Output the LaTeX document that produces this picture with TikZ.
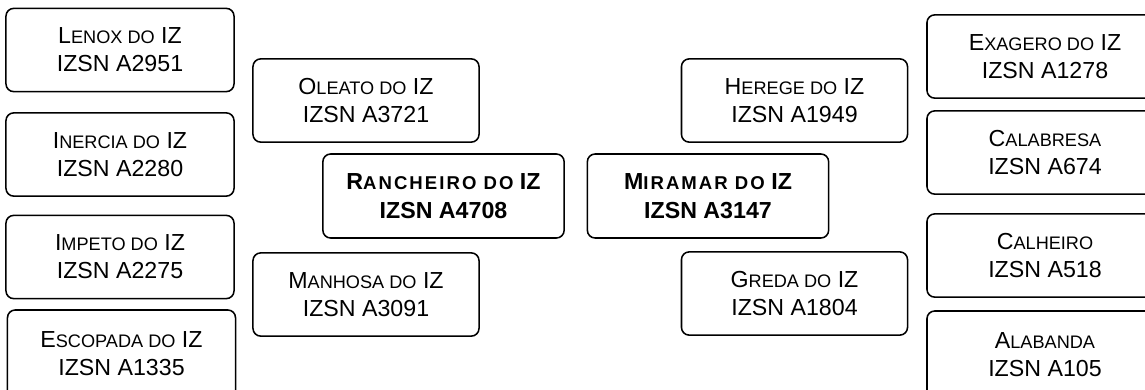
\documentclass[tikz,border=0pt]{standalone}
\usepackage{fontspec}
\setmainfont{Liberation Sans}
\usetikzlibrary{
    positioning
}
\definecolor{ink}{RGB}{0,0,0}
\definecolor{paper}{RGB}{255,255,255}
% fake small caps, as the word processor sets them
\newcommand{\lowcap}[1]{{\fontsize{12.9}{20}\selectfont #1}}
\newcommand{\lowcapwide}[1]{{\fontsize{13.2}{21}\selectfont\addfontfeature{LetterSpace=11}#1}}
\tikzset{
    line join=round,
    animal/.style={
        rectangle,
        draw=ink,
        line width=1.1pt,
        rounded corners=5.5pt,
        fill=paper,
        minimum width=5.65cm,
        minimum height=2.08cm,
        align=center,
        inner sep=2pt,
        text=ink,
        font=\fontsize{16.5}{20}\selectfont
    },
    parent/.style={animal},
    grandparent/.style={animal, minimum width=5.7cm},
    edgebox/.style={grandparent, minimum height=2.2cm},
    outerbox/.style={grandparent, minimum width=5.9cm},
    proband/.style={
        animal,
        minimum width=6.03cm,
        minimum height=2.1cm,
        font=\fontsize{16.5}{21}\selectfont\bfseries
    }
}

\begin{document}
\begin{tikzpicture}[x=0.025cm, y=-0.025cm]
    \useasboundingbox (0,0) rectangle (1145,389);
    % page edge cuts the outer boxes
    \clip (0,0) rectangle (1145,389);

    % Rancheiro side
    \node[proband] (ranch) at (443.5,196) {R\lowcapwide{ANCHEIRO DO} IZ\\IZSN A4708};
    \node[parent] (oleato) at (366,100.5) {O\lowcap{LEATO DO} IZ\\IZSN A3721};
    \node[parent] (manhosa) at (366,294.5) {M\lowcap{ANHOSA DO} IZ\\IZSN A3091};
    \node[grandparent] (lenox) at (120,50) {L\lowcap{ENOX DO} IZ\\IZSN A2951};
    \node[grandparent] (inercia) at (120,154.5) {I\lowcap{NERCIA DO} IZ\\IZSN A2280};
    \node[grandparent] (impeto) at (120,257) {I\lowcap{MPETO DO} IZ\\IZSN A2275};
    \node[edgebox] (escopada) at (121.5,354) {E\lowcap{SCOPADA DO} IZ\\IZSN A1335};

    % Miramar side
    \node[proband] (miramar) at (708,196) {M\lowcapwide{IRAMAR DO} IZ\\IZSN A3147};
    \node[parent] (herege) at (794.5,100.5) {H\lowcap{EREGE DO} IZ\\IZSN A1949};
    \node[parent] (greda) at (794.5,293.5) {G\lowcap{REDA DO} IZ\\IZSN A1804};
    \node[outerbox] (exagero) at (1045,56.5) {E\lowcap{XAGERO DO} IZ\\IZSN A1278};
    \node[outerbox] (calabresa) at (1045,152.5) {C\lowcap{ALABRESA}\\IZSN A674};
    \node[outerbox] (calheiro) at (1045,255.5) {C\lowcap{ALHEIRO}\\IZSN A518};
    \node[outerbox, minimum height=2.2cm] (alabanda) at (1045,355) {A\lowcap{LABANDA}\\IZSN A105};

\end{tikzpicture}
\end{document}
